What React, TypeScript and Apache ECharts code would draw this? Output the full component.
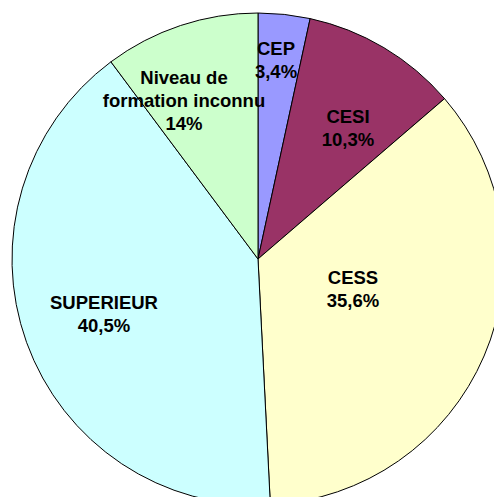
import React, { useEffect, useRef } from "react";
import * as echarts from "echarts";

const categories = ["CEP", "CESI", "CESS", "SUPERIEUR", "Niveau de\nformation inconnu"];
const values = [3.4, 10.3, 35.5, 40.6, 10.2];
const percentLabels = ["3,4%", "10,3%", "35,6%", "40,5%", "14%"];
const colors = ["#9999FF", "#993366", "#FFFFCC", "#CCFFFF", "#CCFFCC"];

// label anchor points (text block centers) in px
const LABEL_POS: [number, number][] = [
  [276, 60],
  [348, 128],
  [353, 289],
  [104, 314],
  [184, 100],
];

export default function App() {
  const ref = useRef<HTMLDivElement>(null);
  useEffect(() => {
    if (!ref.current) return;
    const chart = echarts.init(ref.current, null, { renderer: "svg" });
    chart.setOption({
      animation: false,
      backgroundColor: "#ffffff",
      series: [
        {
          type: "pie",
          center: [258, 259],
          radius: [0, 246],
          startAngle: 90,
          clockwise: true,
          avoidLabelOverlap: false,
          itemStyle: { borderColor: "#000000", borderWidth: 1 },
          emphasis: { disabled: true },
          label: {
            show: true,
            position: "inside",
            color: "#000000",
            fontFamily: "'Liberation Sans', Arial, sans-serif",
            fontWeight: "bold",
            fontSize: 18.5,
            lineHeight: 23,
            align: "center",
            verticalAlign: "middle",
            formatter: (p: any) => `${categories[p.dataIndex]}\n${percentLabels[p.dataIndex]}`,
          },
          labelLine: { show: false },
          labelLayout: (p: any) => ({
            x: LABEL_POS[p.dataIndex][0],
            y: LABEL_POS[p.dataIndex][1],
            hideOverlap: false,
          }),
          data: categories.map((c, i) => ({
            name: c,
            value: values[i],
            itemStyle: { color: colors[i] },
          })),
        },
      ],
    });
    return () => chart.dispose();
  }, []);
  return (
    <div
      ref={ref}
      style={{ position: "absolute", left: 0, top: 0, width: 494, height: 497 }}
    />
  );
}
